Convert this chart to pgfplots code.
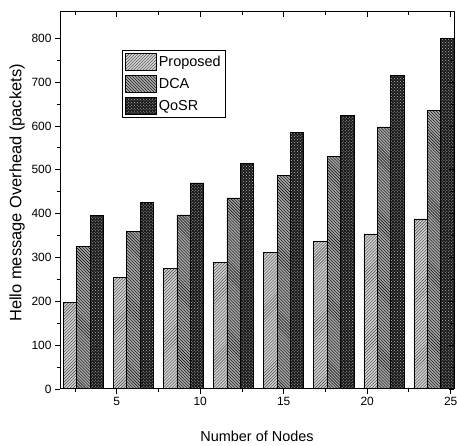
\documentclass[border=0pt]{standalone}
\usepackage{pgfplots}
\pgfplotsset{compat=1.18}
\usepackage{fontspec}
\setmainfont{Liberation Sans}
\usetikzlibrary{patterns}

\begin{document}
\begin{tikzpicture}
\begin{axis}[name=ax, scale only axis, width=394bp, height=377bp,
  xmin=1.6, xmax=25.2, ymin=0, ymax=860,
  xtick={5,10,15,20,25}, minor xtick={2.5,7.5,12.5,17.5,22.5},
  ytick={0,100,...,800}, minor ytick={50,150,...,750},
  xtick pos=bottom, ytick pos=left, tick align=outside,
  major tick length=5bp, minor tick length=3bp,
  every tick/.style={black, line width=0.9pt},
  axis line style={line width=1pt},
  ybar=0pt, bar width=0.8,
  ticklabel style={font=\fontsize{12}{13}\selectfont},
  /pgf/number format/assume math mode=true,
  xlabel={Number of Nodes}, ylabel={Hello message Overhead (packets)},
  xlabel style={font=\fontsize{14.5}{15}\selectfont, at={(axis description cs:0.5,-0.125)}, anchor=center},
  ylabel style={font=\fontsize{16.5}{17}\selectfont, at={(axis description cs:-0.109,0.52)}, anchor=center},
  legend style={at={(axis description cs:0.157,0.90)}, anchor=north west, draw=black, line width=0.8pt,
    font=\fontsize{14.5}{16}\selectfont,
    row sep=4.5bp, inner xsep=3bp, inner ysep=3bp,
    /tikz/every even column/.append style={column sep=0bp}},
  legend image code/.code={\draw[#1, line width=0.6pt] (0bp,-8.5bp) rectangle (31bp,8.5bp);},
  legend cell align=left,
]
\addplot[draw=black, line width=0.6pt, fill=gray!35, postaction={pattern=north east lines, pattern color=black!75}]
  coordinates {(3,198) (6,254) (9,276) (12,289) (15,312) (18,337) (21,354) (24,388)};
\addplot[draw=black, line width=0.6pt, fill=gray!70, postaction={pattern=north west lines, pattern color=black}]
  coordinates {(3,326) (6,360) (9,397) (12,436) (15,487) (18,530) (21,598) (24,636)};
\addplot[draw=black, line width=0.6pt, fill=black!90, postaction={pattern=crosshatch dots, pattern color=gray!55}]
  coordinates {(3,396) (6,426) (9,470) (12,514) (15,585) (18,624) (21,715) (24,799)};
\legend{Proposed, DCA, QoSR}
\end{axis}
\begin{axis}[at={(ax.south west)}, anchor=south west, scale only axis, width=394bp, height=377bp,
  xmin=1.6, xmax=25.2, ymin=0, ymax=860,
  xtick={5,10,15,20,25}, minor xtick={2.5,7.5,12.5,17.5,22.5},
  ytick={0,100,...,800}, minor ytick={50,150,...,750},
  xtick pos=top, ytick pos=right, tick align=inside,
  major tick length=5bp, minor tick length=3bp,
  every tick/.style={black, line width=0.9pt},
  axis line style={line width=1pt},
  xticklabels={}, yticklabels={},
]
\end{axis}
\pgfresetboundingbox
\path ([shift={(-60bp,-57bp)}]ax.south west) rectangle ([shift={(3bp,12bp)}]ax.north east);
\end{tikzpicture}
\end{document}
